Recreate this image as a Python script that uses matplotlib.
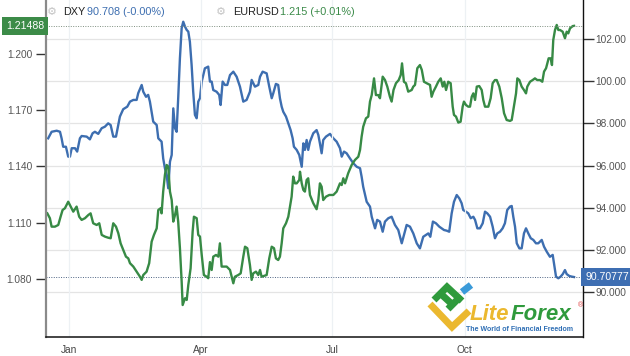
import numpy as np
import pandas as pd
import matplotlib
matplotlib.use("Agg")
import matplotlib.pyplot as plt
import matplotlib.dates as mdates
import matplotlib.transforms as mtransforms
from matplotlib.lines import Line2D

plt.rcParams['font.family'] = ['Liberation Sans', 'DejaVu Sans']

# ---------------- data (day offsets from 2020-01-01) ----------------
dxy_days = [-14.6, -12.2, -8.7, -6.4, -5.3, -4.2, -2.3, -0.7, 0.5, 1.7, 4.0, 5.5, 7.4, 8.6, 12.1, 14.3,
            16.2, 17.8, 20.1, 22.5, 24.7, 27.0, 28.7, 30.5, 32.4, 35.1, 37.4, 40.2, 42.1, 44.4, 46.7,
            47.8, 50.2, 51.3, 53.2, 54.7, 55.9, 58.2, 60.6, 61.7, 64.0, 65.1, 66.3, 67.5, 68.6, 69.8,
            71.0, 72.1, 73.3, 74.4, 75.5, 76.7, 77.9, 79.0, 80.2, 81.4, 82.5, 83.6, 84.8, 85.9, 87.1,
            88.3, 89.4, 90.6, 91.8, 94.0, 96.3, 97.5, 98.7, 99.8, 102.1, 103.9, 104.9, 106.3, 107.9,
            109.5, 111.4, 113.7, 116.0, 118.3, 120.6, 122.9, 125.2, 126.4, 128.7, 131.0, 132.2, 134.0,
            136.8, 138.6, 140.3, 141.4, 143.2, 144.8, 146.0, 147.2, 148.3, 150.2, 151.8, 153.4, 154.8,
            155.7, 157.6, 159.4, 161.1, 162.2, 163.3, 164.5, 165.6, 166.8, 169.1, 171.4, 172.6, 173.7,
            174.9, 176.0, 177.9, 180.7, 183.0, 185.3, 187.6, 188.8, 190.4, 192.2, 194.5, 196.8, 199.2,
            201.5, 202.6, 203.7, 206.1, 208.4, 209.6, 211.9, 213.4, 215.3, 217.2, 218.8, 221.1, 223.4,
            225.7, 228.0, 230.4, 231.9, 233.8, 236.1, 238.4, 240.8, 243.0, 245.3, 248.8, 250.2, 252.0,
            254.1, 256.4, 258.1, 259.7, 261.5, 263.3, 265.0, 266.6, 268.5, 270.3, 271.9, 273.0, 274.9,
            276.5, 278.2, 280.0, 281.2, 282.8, 284.6, 286.5, 288.1, 289.7, 291.6, 293.4, 295.0, 296.6,
            298.5, 300.3, 301.9, 303.5, 305.4, 306.6, 307.7, 308.9, 310.1, 311.9, 313.5, 315.1, 316.5,
            318.1, 319.8, 321.6, 323.4, 325.0, 327.4, 329.0, 330.9, 333.1, 335.0, 335.9, 337.3, 338.9,
            340.5, 342.0, 343.5, 344.7, 346.5, 348.2, 349.8]
dxy_values = [97.29, 97.60, 97.65, 97.60, 97.29, 96.89, 96.89, 96.42, 96.42, 96.82, 96.82, 96.66, 97.29,
              97.40, 97.37, 97.24, 97.53, 97.60, 97.50, 97.77, 97.84, 98.00, 97.92, 97.37, 97.37, 98.32,
              98.67, 98.79, 99.03, 99.11, 99.11, 99.43, 99.82, 99.50, 99.26, 99.35, 99.03, 98.08, 97.92,
              97.29, 97.13, 96.34, 95.87, 95.55, 94.92, 96.18, 96.50, 98.71, 97.77, 97.60, 99.19, 101.09,
              102.51, 102.82, 102.59, 102.43, 102.35, 101.87, 100.77, 99.50, 98.40, 98.24, 99.03, 99.19,
              99.98, 100.61, 100.69, 99.98, 99.98, 99.58, 99.50, 99.35, 98.87, 99.98, 99.82, 99.82,
              100.29, 100.45, 100.21, 99.74, 99.03, 99.11, 99.50, 100.06, 99.74, 99.82, 100.21, 100.45,
              100.37, 99.74, 99.19, 99.43, 99.87, 99.82, 99.19, 98.79, 98.55, 98.32, 98.00, 97.68, 97.29,
              96.89, 96.74, 96.50, 95.94, 97.05, 96.74, 97.21, 96.74, 97.13, 97.53, 97.68, 97.45, 97.05,
              96.58, 97.21, 97.37, 97.50, 97.29, 97.13, 96.82, 96.42, 96.66, 96.58, 96.34, 96.11, 95.94,
              95.87, 95.47, 94.99, 94.28, 94.05, 93.57, 93.02, 93.42, 93.34, 92.86, 93.34, 93.50, 93.57,
              93.18, 92.94, 92.31, 92.70, 93.18, 93.10, 92.78, 92.31, 92.07, 92.62, 92.78, 92.62, 93.34,
              93.26, 93.10, 93.02, 92.94, 92.91, 92.86, 93.73, 94.28, 94.60, 94.44, 94.21, 93.89, 93.81,
              93.73, 93.50, 93.57, 93.42, 93.02, 93.02, 93.26, 93.81, 93.73, 93.57, 93.10, 92.55, 92.78,
              92.86, 93.02, 93.26, 93.89, 94.05, 94.08, 93.57, 93.10, 92.31, 92.07, 92.07, 92.78, 93.02,
              92.78, 92.55, 92.47, 92.31, 92.31, 92.47, 92.15, 91.91, 91.67, 91.76, 91.36, 90.73, 90.65,
              90.73, 90.85, 91.04, 90.85, 90.76, 90.73, 90.71]

eur_days = [-15.2, -13.4, -12.2, -9.9, -7.6, -6.0, -4.6, -3.0, -0.7, 1.0, 2.8, 5.1, 6.9, 8.6, 10.9, 13.2,
            14.8, 16.6, 19.0, 20.8, 22.5, 24.7, 27.0, 28.7, 30.5, 32.4, 34.0, 35.6, 37.4, 39.3, 40.9,
            42.1, 44.4, 46.7, 49.0, 50.2, 51.3, 53.6, 55.4, 57.1, 58.7, 60.6, 61.7, 63.3, 64.0, 65.1,
            66.3, 67.5, 68.6, 69.8, 71.0, 72.1, 73.3, 74.4, 75.5, 76.7, 77.9, 78.6, 80.2, 81.4, 82.5,
            84.1, 85.5, 86.4, 88.3, 89.4, 90.6, 91.8, 93.3, 95.2, 96.3, 97.5, 98.7, 99.8, 101.7, 103.3,
            104.4, 105.6, 106.7, 109.1, 111.4, 112.6, 113.7, 114.8, 117.1, 118.8, 120.6, 121.8, 123.4,
            125.2, 126.4, 127.5, 129.4, 131.0, 132.2, 133.3, 134.9, 136.8, 138.6, 140.3, 141.9, 143.2,
            144.8, 146.0, 147.2, 148.3, 150.2, 151.8, 153.0, 154.1, 155.2, 156.4, 157.6, 159.4, 159.9,
            161.1, 162.2, 163.3, 164.5, 165.6, 166.8, 169.1, 171.4, 172.6, 173.7, 174.9, 176.0, 177.9,
            180.2, 183.0, 185.3, 187.6, 188.8, 189.9, 191.1, 193.3, 195.7, 198.0, 200.3, 201.5, 202.6,
            203.7, 205.6, 207.2, 208.4, 209.6, 211.2, 212.5, 214.1, 215.3, 217.2, 218.8, 220.4, 222.2,
            223.4, 224.7, 226.4, 228.3, 229.7, 230.6, 231.9, 233.3, 234.9, 237.3, 238.4, 239.6, 241.2,
            243.0, 244.3, 245.8, 247.7, 250.0, 251.1, 252.3, 254.1, 255.7, 257.4, 258.8, 259.9, 261.1,
            262.6, 264.3, 265.7, 266.6, 268.0, 269.6, 271.2, 272.6, 273.5, 274.9, 276.5, 277.7, 278.9,
            280.0, 281.2, 282.4, 284.1, 285.8, 286.9, 288.1, 290.4, 292.0, 293.4, 295.0, 296.2, 298.0,
            299.7, 301.3, 303.1, 305.4, 306.6, 307.7, 309.6, 310.5, 311.9, 313.5, 315.1, 316.5, 317.4,
            319.3, 321.1, 322.7, 324.3, 326.2, 327.8, 329.0, 330.4, 331.3, 332.2, 333.6, 334.5, 335.4,
            336.6, 337.8, 338.9, 340.1, 341.9, 343.5, 344.7, 345.8, 347.0, 348.9, 349.8]
eur_values = [1.1150, 1.1124, 1.1079, 1.1079, 1.1088, 1.1132, 1.1168, 1.1177, 1.1212, 1.1186, 1.1159,
              1.1186, 1.1132, 1.1115, 1.1124, 1.1141, 1.1150, 1.1097, 1.1088, 1.1097, 1.1035, 1.1026,
              1.1020, 1.1017, 1.1097, 1.1079, 1.1044, 1.0990, 1.0955, 1.0919, 1.0910, 1.0884, 1.0866,
              1.0839, 1.0812, 1.0795, 1.0821, 1.0839, 1.0884, 1.0999, 1.1035, 1.1070, 1.1168, 1.1177,
              1.1150, 1.1266, 1.1355, 1.1408, 1.1399, 1.1266, 1.1221, 1.1106, 1.1141, 1.1186, 1.1106,
              1.0964, 1.0786, 1.0661, 1.0697, 1.0688, 1.0768, 1.0857, 1.1052, 1.1132, 1.1124, 1.1035,
              1.1026, 1.0928, 1.0821, 1.0812, 1.0804, 1.0890, 1.0848, 1.0919, 1.0928, 1.0919, 1.0990,
              1.0866, 1.0866, 1.0866, 1.0848, 1.0812, 1.0777, 1.0812, 1.0821, 1.0830, 1.0919, 1.0972,
              1.0964, 1.0875, 1.0795, 1.0830, 1.0839, 1.0821, 1.0848, 1.0812, 1.0816, 1.0821, 1.0910,
              1.0972, 1.0964, 1.0910, 1.0901, 1.0919, 1.0990, 1.1070, 1.1097, 1.1132, 1.1186, 1.1239,
              1.1346, 1.1310, 1.1310, 1.1328, 1.1372, 1.1310, 1.1275, 1.1266, 1.1328, 1.1337, 1.1248,
              1.1204, 1.1172, 1.1221, 1.1310, 1.1292, 1.1221, 1.1239, 1.1248, 1.1248, 1.1266, 1.1310,
              1.1301, 1.1337, 1.1310, 1.1364, 1.1408, 1.1435, 1.1452, 1.1488, 1.1559, 1.1612, 1.1657,
              1.1666, 1.1746, 1.1781, 1.1870, 1.1781, 1.1781, 1.1764, 1.1879, 1.1861, 1.1826, 1.1772,
              1.1746, 1.1808, 1.1844, 1.1861, 1.1888, 1.1950, 1.1852, 1.1844, 1.1799, 1.1808, 1.1826,
              1.1835, 1.1924, 1.1941, 1.1915, 1.1852, 1.1844, 1.1835, 1.1772, 1.1799, 1.1826, 1.1852,
              1.1870, 1.1826, 1.1852, 1.1808, 1.1852, 1.1844, 1.1719, 1.1675, 1.1666, 1.1634, 1.1639,
              1.1719, 1.1746, 1.1728, 1.1719, 1.1719, 1.1772, 1.1790, 1.1755, 1.1826, 1.1829, 1.1808,
              1.1755, 1.1719, 1.1719, 1.1764, 1.1844, 1.1861, 1.1861, 1.1826, 1.1764, 1.1684, 1.1648,
              1.1643, 1.1648, 1.1701, 1.1790, 1.1870, 1.1861, 1.1826, 1.1808, 1.1790, 1.1826, 1.1852,
              1.1861, 1.1870, 1.1861, 1.1861, 1.1852, 1.1906, 1.1924, 1.1950, 1.1977, 1.1977, 1.1941,
              1.2075, 1.2128, 1.2155, 1.2128, 1.2128, 1.2119, 1.2084, 1.2119, 1.2110, 1.2137, 1.2149,
              1.2150]

eur_ticks = [1.080, 1.110, 1.140, 1.170, 1.200]
eur_tick_labels = ['1.080', '1.110', '1.140', '1.170', '1.200']
dxy_ticks = [90, 92, 94, 96, 98, 100, 102]
dxy_tick_labels = ['90.000', '92.000', '94.000', '96.000', '98.000', '100.00', '102.00']
eur_last = 1.21488
dxy_last = 90.70777

base = pd.Timestamp('2020-01-01')
dxy_dates = base + pd.to_timedelta(dxy_days, unit='D')
eur_dates = base + pd.to_timedelta(eur_days, unit='D')

BLUE = '#3d6eb0'
GREEN = '#378a45'

W, H = 630, 356
fig = plt.figure(figsize=(W / 100, H / 100), dpi=100)
fig.patch.set_facecolor('white')

ax = fig.add_axes([46 / W, (H - 336.7) / H, (583 - 46) / W, 336.7 / H])
ax2 = ax.twinx()
ax.set_zorder(ax2.get_zorder() + 1)
ax.patch.set_visible(False)

ax2.plot(dxy_dates, dxy_values, color=BLUE, lw=1.7, solid_joinstyle='round')
ax.plot(eur_dates, eur_values, color=GREEN, lw=1.7, solid_joinstyle='round')

ax.set_xlim(base + pd.Timedelta(days=-16.1), base + pd.Timedelta(days=356))
ax.set_ylim(1.0492, 1.2288)
ax2.set_ylim(87.88, 103.85)

# ticks
ax.set_yticks(eur_ticks)
ax.set_yticklabels(eur_tick_labels)
ax2.set_yticks(dxy_ticks)
ax2.set_yticklabels(dxy_tick_labels)
ax.tick_params(axis='y', length=7, width=1, color='#333333', labelsize=7.3, labelcolor='#555555', pad=3)
ax2.tick_params(axis='y', length=8, width=1, color='#333333', labelsize=7.3, labelcolor='#555555', pad=1)
ax.xaxis.set_major_locator(mdates.MonthLocator(bymonth=[1, 4, 7, 10]))
ax.xaxis.set_major_formatter(mdates.DateFormatter('%b'))
ax.tick_params(axis='x', length=0, labelsize=7.3, labelcolor='#444444', pad=6)

# grids
ax2.yaxis.grid(True, color='#e4e4e4', lw=0.9)
ax2.set_axisbelow(True)
ax.xaxis.grid(True, color='#edf1f4', lw=0.9)
ax.set_axisbelow(True)

# spines
for s in ['top', 'right']:
    ax.spines[s].set_visible(False)
for s in ['top', 'left', 'bottom']:
    ax2.spines[s].set_visible(False)
ax.spines['left'].set_color('#8a8a8a')
ax.spines['left'].set_linewidth(1.6)
ax.spines['bottom'].set_color('#111111')
ax.spines['bottom'].set_linewidth(1.1)
ax2.spines['right'].set_color('#111111')
ax2.spines['right'].set_linewidth(1.0)

# last-value lines and flags
ax.axhline(eur_last, color='#7f8f80', lw=0.7, ls=(0, (1, 1.5)))
ax2.axhline(dxy_last, color='#4d6383', lw=0.7, ls=(0, (1, 1.5)))
tr_l = mtransforms.blended_transform_factory(ax.transAxes, ax.transData)
ax.text(-0.004, eur_last, '1.21488', transform=tr_l, ha='right', va='center', color='white',
        fontsize=7.6, bbox=dict(boxstyle='square,pad=0.38', facecolor='#3c8b48', edgecolor='none'),
        clip_on=False)
tr_r = mtransforms.blended_transform_factory(ax2.transAxes, ax2.transData)
ax2.text(1.004, dxy_last, '90.70777', transform=tr_r, ha='left', va='center', color='white',
         fontsize=7.6, bbox=dict(boxstyle='square,pad=0.38', facecolor='#3e6eb2', edgecolor='none'),
         clip_on=False)

# header legend
def fx(px):
    return px / W

def fy(py):
    return 1 - py / H

ly = fy(12)
fig.text(fx(52), ly, '\u2699', color='#c4c4c4', fontsize=8, ha='center', va='center')
fig.text(fx(63), ly, 'DXY', color='#222222', fontsize=7.8, va='center')
fig.text(fx(87), ly, '90.708 (-0.00%)', color='#3d6eb0', fontsize=7.8, va='center')
fig.text(fx(221), ly, '\u2699', color='#c4c4c4', fontsize=8, ha='center', va='center')
fig.text(fx(233), ly, 'EURUSD', color='#222222', fontsize=7.8, va='center')
fig.text(fx(280), ly, '1.215 (+0.01%)', color='#3a8a48', fontsize=7.8, va='center')

# LiteForex watermark logo
def pline(pts, color, lw):
    xs = [fx(p[0]) for p in pts]
    ys = [fy(p[1]) for p in pts]
    fig.add_artist(Line2D(xs, ys, transform=fig.transFigure, color=color, lw=lw,
                          solid_capstyle='butt', solid_joinstyle='miter'))

pline([(430, 304), (452, 327), (469, 311)], '#ebb82f', 5)
pline([(434, 300), (447, 287), (462, 301)], '#2f9a3c', 5)
pline([(448, 309), (461, 296)], '#2f9a3c', 5)
pline([(441, 294), (454, 306)], '#2f9a3c', 5)
pline([(462, 292), (471, 285)], '#3a9ad9', 5)

fig.canvas.draw()
renderer = fig.canvas.get_renderer()
t_lite = fig.text(fx(470), fy(320), 'Lite', color='#ebb82f', fontsize=16, fontweight='bold',
                  style='italic', ha='left', va='baseline')
ext = t_lite.get_window_extent(renderer)
fig.text(ext.x1 / W + 0.002, fy(320), 'Forex', color='#2f9a3c', fontsize=16, fontweight='bold',
         style='italic', ha='left', va='baseline')
fig.text(fx(466), fy(326), 'The World of Financial Freedom', color='#2f6fb5', fontsize=5.0,
         fontweight='bold', ha='left', va='top')
fig.text(fx(581), fy(306), '\u00ae', color='#e04040', fontsize=5, ha='center', va='center')

fig.savefig('out.png', dpi=100, facecolor='white')
